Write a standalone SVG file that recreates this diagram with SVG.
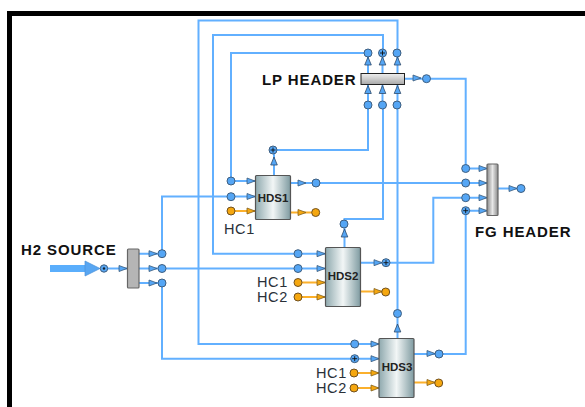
<svg xmlns="http://www.w3.org/2000/svg" width="585" height="407" viewBox="0 0 585 407">
<style>
.p{fill:none;stroke:#62b0ff;stroke-width:2}
.o{fill:none;stroke:#fbb02c;stroke-width:2}
.lb{font-family:"Liberation Sans",Arial,sans-serif;font-weight:700;font-size:15px;fill:#111;letter-spacing:.9px}
.hc{font-family:"Liberation Sans",Arial,sans-serif;font-size:14.5px;fill:#2a3038;letter-spacing:.6px}
.eq{font-family:"Liberation Sans",Arial,sans-serif;font-weight:700;font-size:11.5px;fill:#222;text-anchor:middle}
.v{fill:url(#g);stroke:#555;stroke-width:1.2}
</style>
<defs>
<linearGradient id="g" x1="0" x2="1" y1="0" y2="0"><stop offset="0" stop-color="#8fa9ae"/><stop offset=".5" stop-color="#f2f6f6"/><stop offset="1" stop-color="#7f9ba1"/></linearGradient>
<linearGradient id="h" x1="0" x2="0" y1="0" y2="1"><stop offset="0" stop-color="#f0f0f0"/><stop offset="1" stop-color="#a8a8a8"/></linearGradient>
<linearGradient id="f" x1="0" x2="1" y1="0" y2="0"><stop offset="0" stop-color="#8a8a8a"/><stop offset=".5" stop-color="#e8e8e8"/><stop offset="1" stop-color="#8a8a8a"/></linearGradient>
<circle id="nb" r="4" fill="#55a6f5" stroke="#3f5f80" stroke-width="1"/>
<circle id="ny" r="4" fill="#f5a70f" stroke="#705020" stroke-width="1"/>
<g id="np"><circle r="4" fill="#55a6f5" stroke="#3f5f80" stroke-width="1"/><path d="M-2.5 0H2.500M0-2.500V2.500" stroke="#111" stroke-width=".9"/></g>
<path id="ar" d="M-8-3L0 0L-8 3Z" fill="#55a6f5" stroke="#3b5a7a" stroke-width=".8"/>
<path id="ay" d="M-8-3L0 0L-8 3Z" fill="#f5a70f" stroke="#806020" stroke-width=".8"/>
<path id="au" d="M-3.300 0L0-8L3.300 0Z" fill="#55a6f5" stroke="#2f4a6a" stroke-width=".8"/>
</defs>
<rect width="585" height="407" fill="#fff"/>
<path d="M7 407V11H585V16H12V407Z" fill="#000"/>
<g id="connectors">
<path class="p" d="M397.500 53V20.500H198.500V344H355"/>
<path class="p" d="M383 53V35H213V253.700H298"/>
<path class="p" d="M368 53H231V181H255"/>
<path class="p" d="M274 175V150H368V105"/>
<path class="p" d="M255 196.500H162V253.700H139"/>
<path class="p" d="M139 268.500H325"/>
<path class="p" d="M139 283H162V358.700H379"/>
<path class="p" d="M290 183H487"/>
<path class="p" d="M368 73V53M382.500 73V53M397.500 73V53M368 85V105M382.500 85V105M397.500 85V313M383 105V219H344.500V247"/>
<path class="p" d="M405 78.700H465.700V168.500H487"/>
<path class="p" d="M360 262.700H433.300V197.700H487"/>
<path class="p" d="M414 354H465.700V210.700H487"/>
<path class="p" d="M498 188.500H521"/>
<path class="p" d="M298 253.700H325M355 344H379M397.500 338V313"/>
<path class="p" d="M104 268.500H127"/>
<path d="M50 268.500H86" fill="none" stroke="#5aaefc" stroke-width="7"/>
<path class="o" d="M231 211H255M290 212.500H316M298 282.500H325M298 297H325M360 291.500H386M354 373H379M354 388H379M414 382.500H439"/>
<use href="#ar" x="255" y="181"/>
<use href="#ar" x="255" y="196.500"/>
<use href="#ay" x="255" y="211"/>
<use href="#ar" x="306" y="183"/>
<use href="#ay" x="306" y="212.500"/>
<use href="#ar" x="127" y="268.500"/>
<use href="#ar" x="157" y="253.700"/>
<use href="#ar" x="157" y="268.500"/>
<use href="#ar" x="157" y="283"/>
<use href="#ar" x="325" y="253.700"/>
<use href="#ar" x="325" y="268.500"/>
<use href="#ay" x="325" y="282.500"/>
<use href="#ay" x="325" y="297"/>
<use href="#ar" x="382" y="262.700"/>
<use href="#ay" x="382" y="291.500"/>
<use href="#ar" x="379" y="344"/>
<use href="#ar" x="379" y="358.700"/>
<use href="#ay" x="379" y="373"/>
<use href="#ay" x="379" y="388"/>
<use href="#ar" x="435" y="353.500"/>
<use href="#ay" x="435" y="382.500"/>
<use href="#ar" x="421" y="78"/>
<use href="#ar" x="487" y="168.500"/>
<use href="#ar" x="487" y="183"/>
<use href="#ar" x="487" y="197.700"/>
<use href="#ar" x="487" y="210.700"/>
<use href="#ar" x="517" y="188.500"/>
<use href="#au" x="368" y="65"/>
<use href="#au" x="382.500" y="65"/>
<use href="#au" x="397.500" y="65"/>
<use href="#au" x="368" y="93.500"/>
<use href="#au" x="382.500" y="93.500"/>
<use href="#au" x="397.500" y="93.500"/>
<use href="#au" x="274" y="165"/>
<use href="#au" x="344.500" y="237"/>
<use href="#au" x="397.500" y="332"/>
<path d="M85 261L100 268.500L85 276Z" fill="#58a6f2" stroke="#4a90d8" stroke-width=".7"/>
</g>
<g id="h2-source"><text class="lb" x="21" y="255">H2 SOURCE</text>
<circle cx="104" cy="268.500" r="3.700" fill="#58a6f2" stroke="#3f5f80"/><circle cx="104" cy="268.500" r="1.200" fill="#123"/></g>
<g id="splitter"><rect x="127.500" y="249" width="11.500" height="39" rx="1" fill="#b5b5b5" stroke="#666" stroke-width="1.200"/>
<use href="#nb" x="162" y="253.700"/><use href="#nb" x="162" y="268.500"/><use href="#nb" x="162" y="283"/></g>
<g id="lp-header"><text class="lb" x="262" y="84.500">LP HEADER</text>
<rect x="361" y="73.500" width="43.500" height="11" fill="url(#h)" stroke="#222" stroke-width="1"/>
<use href="#nb" x="368" y="53"/><use href="#np" x="382.500" y="53"/><use href="#nb" x="397" y="53"/>
<use href="#nb" x="368" y="105"/><use href="#nb" x="382.500" y="105"/><use href="#nb" x="397" y="105"/><use href="#nb" x="426.500" y="78.700"/></g>
<g id="fg-header"><text class="lb" x="475" y="237">FG HEADER</text>
<rect x="487" y="164" width="11" height="51.500" rx="1" fill="url(#f)" stroke="#666" stroke-width="1.200"/>
<use href="#nb" x="465.700" y="168.500"/><use href="#nb" x="465.700" y="183"/><use href="#nb" x="465.700" y="197.700"/><use href="#np" x="465.700" y="210.700"/><use href="#nb" x="521" y="188.500"/></g>
<g id="hds1"><rect class="v" x="255.500" y="175.500" width="35" height="44" rx="1"/><text class="eq" x="273" y="202">HDS1</text>
<use href="#np" x="273" y="150"/><use href="#nb" x="231" y="181"/><use href="#nb" x="231" y="196.700"/><use href="#ny" x="231" y="211"/><use href="#nb" x="316" y="183"/><use href="#ny" x="315.700" y="212.500"/>
<text class="hc" x="224" y="234">HC1</text></g>
<g id="hds2"><rect class="v" x="325.500" y="247.500" width="35" height="59" rx="1"/><text class="eq" x="343" y="280">HDS2</text>
<use href="#nb" x="344" y="224"/><use href="#nb" x="298" y="253.700"/><use href="#nb" x="298" y="268.500"/><use href="#ny" x="298" y="282.500"/><use href="#ny" x="298" y="297"/><use href="#np" x="386" y="262.700"/><use href="#ny" x="385.700" y="292"/>
<text class="hc" x="257" y="287">HC1</text><text class="hc" x="257" y="302">HC2</text></g>
<g id="hds3"><rect class="v" x="379" y="338.500" width="35" height="59" rx="1"/><text class="eq" x="397" y="371">HDS3</text>
<use href="#nb" x="397.500" y="313.500"/><use href="#nb" x="354.700" y="344"/><use href="#np" x="354.700" y="358.700"/><use href="#ny" x="354" y="373"/><use href="#ny" x="354" y="388"/><use href="#nb" x="439" y="354"/><use href="#ny" x="438.700" y="383"/>
<text class="hc" x="316" y="378">HC1</text><text class="hc" x="316" y="393">HC2</text></g>
</svg>
